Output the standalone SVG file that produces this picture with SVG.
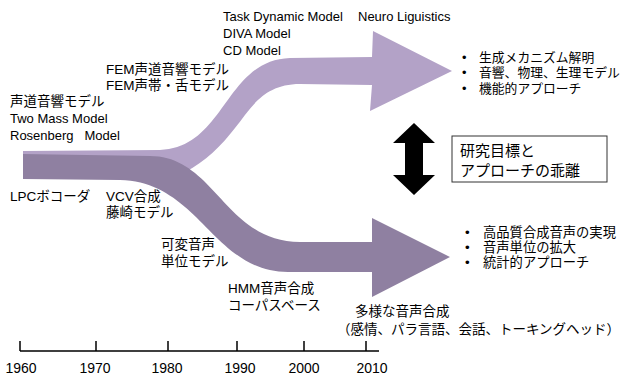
<svg xmlns="http://www.w3.org/2000/svg" width="624" height="376" viewBox="0 0 624 376">
<style>
text{font-family:"Liberation Sans","Noto Sans CJK JP",sans-serif;fill:#000;}
.t{font-size:13px;}
.j{font-size:13.5px;}
.b{font-size:12.8px;}
.b2{font-size:13.3px;}
.box{font-size:15px;}
.yr{font-size:14px;text-anchor:middle;}
.light{fill:#b3a2c7;}
.dark{fill:#8f80a1;}
.axis{stroke:#000;stroke-width:1.5;fill:none;}
</style>
<rect width="624" height="376" fill="#fff"/>
<g id="flows">
<g id="upper-arrow">
<path class="light" d="M23,151 L160,150 C225,148 225,60 290,58 L372,57 L373,31 L452,71 L370,111 L372,85 L300,84 C262,84 250,110 235,128 C222,145 205,162 185,172 L150,178 L23,178 Z"/>
</g>
<g id="lower-arrow">
<path class="dark" d="M23,154 L150,156 C215,156 225,242 300,242 L372,242 L372,218 L450,257 L372,297 L372,272 L288,272 C213,272 200,182 120,180 L23,179 Z"/>
</g>
</g>
<g id="labels-top">
<g id="n-task"><text class="t" x="223" y="21">Task Dynamic Model</text><text class="t" x="223" y="38">DIVA Model</text><text class="t" x="223" y="55">CD Model</text></g>
<g id="n-neuro"><text class="t" x="358" y="21">Neuro Liguistics</text></g>
<g id="n-fem"><text class="j" x="106" y="74">FEM声道音響モデル</text><text class="j" x="106" y="90">FEM声帯・舌モデル</text></g>
<g id="n-vt"><text class="j" x="10" y="106">声道音響モデル</text><text class="t" x="10" y="123">Two Mass Model</text><text class="t" x="10" y="140" style="white-space:pre">Rosenberg   Model</text></g>
</g>
<g id="labels-bottom">
<g id="n-lpc"><text class="j" x="10" y="201">LPCボコーダ</text></g>
<g id="n-vcv"><text class="j" x="106" y="201">VCV合成</text><text class="j" x="106" y="217">藤崎モデル</text></g>
<g id="n-var"><text class="j" x="161" y="249">可変音声</text><text class="j" x="161" y="266">単位モデル</text></g>
<g id="n-hmm"><text class="j" x="228" y="293">HMM音声合成</text><text class="j" x="228" y="310">コーパスベース</text></g>
<g id="n-div"><text class="j" x="355" y="316">多様な音声合成</text><text class="j" x="337" y="334">（感情、パラ言語、会話、トーキングヘッド）</text></g>
</g>
<g id="goals-upper">
<text class="b" y="62"><tspan x="462">•</tspan><tspan x="479">生成メカニズム解明</tspan></text>
<text class="b" y="77"><tspan x="462">•</tspan><tspan x="479">音響、物理、生理モデル</tspan></text>
<text class="b" y="93"><tspan x="462">•</tspan><tspan x="479">機能的アプローチ</tspan></text>
</g>
<g id="goals-lower">
<text class="b2" y="237"><tspan x="465">•</tspan><tspan x="483">高品質合成音声の実現</tspan></text>
<text class="b2" y="252"><tspan x="465">•</tspan><tspan x="483">音声単位の拡大</tspan></text>
<text class="b2" y="267"><tspan x="465">•</tspan><tspan x="483">統計的アプローチ</tspan></text>
</g>
<g id="gap-box">
<rect x="452" y="136" width="155" height="46" fill="#fff" stroke="#333" stroke-width="1"/>
<text class="box" x="460" y="156">研究目標と</text>
<text class="box" x="460" y="176">アプローチの乖離</text>
</g>
<g id="connectors">
<polygon fill="#000" points="414,123 435,143 423,143 423,175 435,175 414,195 393,175 405,175 405,143 393,143"/>
</g>
<g id="timeline">
<path class="axis" d="M20,351 H379 M20,341 V351 M96,341 V351 M168,341 V351 M237,341 V351 M304,341 V351 M366,341 V351"/>
<text class="yr" x="21" y="373">1960</text>
<text class="yr" x="95" y="373">1970</text>
<text class="yr" x="167" y="373">1980</text>
<text class="yr" x="240" y="373">1990</text>
<text class="yr" x="304" y="373">2000</text>
<text class="yr" x="372" y="373">2010</text>
</g>
</svg>
